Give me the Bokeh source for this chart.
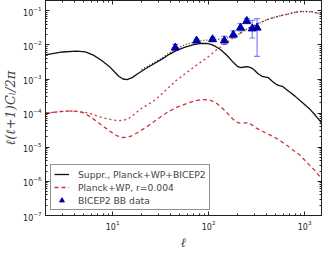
from bokeh.plotting import figure
from bokeh.models import (LogAxis, FixedTicker, Legend, LegendItem, Whisker, TeeHead,
                          ColumnDataSource, Range1d, CustomJSTickFormatter)
from bokeh.embed import file_html
from bokeh.resources import INLINE

# ---------------- data ----------------
# suppressed tensor BB spectrum (Planck+WP+BICEP2)
ell_supp = [2, 3, 4.2, 5.2, 6.3, 7.7, 9.3, 10.5, 11.6, 12.8, 14.1, 16, 18.4, 22, 27, 33, 39, 47,
            58, 70, 84, 95, 106, 118, 133, 147, 161, 175, 187, 202, 218, 235, 254, 275, 296,
            325, 359, 385, 417, 460, 505, 545, 588, 640, 711, 800, 894, 1000, 1122, 1300, 1500]
cl_supp = [5.1e-3, 6.2e-3, 6.6e-3, 6.2e-3, 5.0e-3, 3.5e-3, 2.3e-3, 1.6e-3, 1.2e-3, 1.0e-3,
           9.6e-4, 1.1e-3, 1.45e-3, 2.0e-3, 2.8e-3, 3.9e-3, 5.3e-3, 7.0e-3, 8.7e-3, 1.02e-2,
           1.1e-2, 1.1e-2, 1.03e-2, 9.0e-3, 7.3e-3, 5.7e-3, 4.4e-3, 3.4e-3, 2.8e-3, 2.3e-3,
           2.15e-3, 2.25e-3, 2.3e-3, 2.15e-3, 1.9e-3, 1.45e-3, 1.2e-3, 1.15e-3, 1.1e-3, 8.6e-4,
           7.0e-4, 6.4e-4, 6.1e-4, 5.0e-4, 4.0e-4, 3.1e-4, 2.35e-4, 1.8e-4, 1.35e-4, 8.5e-5, 5.2e-5]

# suppressed tensor + lensing (total)
ell_supp_tot = [20, 27, 33, 39, 47, 58, 70, 84, 106, 133, 168, 203, 244, 300, 386, 470, 565,
                700, 862, 965, 1170, 1310, 1500]
cl_supp_tot = [1.9e-3, 3.0e-3, 4.2e-3, 5.8e-3, 8.0e-3, 1.03e-2, 1.2e-2, 1.33e-2, 1.42e-2,
               1.48e-2, 1.65e-2, 2.0e-2, 2.8e-2, 3.7e-2, 5.2e-2, 6.3e-2, 7.2e-2, 8.2e-2,
               9.4e-2, 9.5e-2, 9.3e-2, 8.7e-2, 8.0e-2]

# Planck+WP tensor spectrum, r = 0.004
ell_planck = [2, 2.8, 3.6, 4.3, 5, 5.8, 6.8, 8, 9.3, 11, 12.6, 14, 15.8, 19, 23, 30, 38, 47, 58,
              70, 84, 102, 118, 133, 150, 168, 185, 203, 228, 254, 280, 309, 345, 386, 450, 524,
              658, 780, 894, 1100, 1300, 1500]
cl_planck = [1.0e-4, 1.1e-4, 1.17e-4, 1.13e-4, 1.02e-4, 8.0e-5, 5.8e-5, 4.1e-5, 3.0e-5, 2.2e-5,
             1.93e-5, 1.95e-5, 2.15e-5, 2.9e-5, 4.1e-5, 7.0e-5, 1.1e-4, 1.5e-4, 1.86e-4, 2.25e-4,
             2.5e-4, 2.45e-4, 2.05e-4, 1.55e-4, 1.15e-4, 8.0e-5, 6.2e-5, 5.2e-5, 5.1e-5, 5.3e-5,
             4.6e-5, 3.7e-5, 3.2e-5, 2.7e-5, 2.2e-5, 1.74e-5, 1.12e-5, 7.8e-6, 5.9e-6, 3.2e-6,
             2.0e-6, 1.2e-6]

# Planck+WP tensor + lensing (total)
ell_planck_tot = [2, 3, 3.6, 5, 6, 7.1, 8.5, 10, 11.6, 13, 14.6, 17, 19.8, 23, 26.9, 32, 38, 46,
                  58, 70, 84, 100, 123, 150, 180, 210, 244, 300, 386, 470, 565, 684, 862, 965,
                  1170, 1310, 1500]
cl_planck_tot = [1.0e-4, 1.12e-4, 1.15e-4, 1.08e-4, 9.5e-5, 8.0e-5, 7.0e-5, 6.3e-5, 6.0e-5,
                 6.2e-5, 6.8e-5, 9.5e-5, 1.35e-4, 1.75e-4, 2.3e-4, 3.5e-4, 5.5e-4, 9.0e-4, 1.5e-3,
                 2.2e-3, 3.2e-3, 4.6e-3, 7.4e-3, 1.1e-2, 1.6e-2, 2.15e-2, 2.8e-2, 3.8e-2, 5.2e-2,
                 6.2e-2, 7.2e-2, 8.1e-2, 9.5e-2, 9.6e-2, 9.4e-2, 8.8e-2, 8.0e-2]

# BICEP2 BB bandpowers
bicep_ell = [45, 75, 110, 146, 181, 215, 250, 285, 320]
bicep_val = [8.3e-3, 1.33e-2, 1.45e-2, 1.33e-2, 1.97e-2, 3.17e-2, 5.0e-2, 3.0e-2, 3.17e-2]
bicep_hi = [1.03e-2, 1.48e-2, 1.65e-2, 1.77e-2, 2.56e-2, 4.2e-2, 6.0e-2, 5.2e-2, 5.9e-2]
bicep_lo = [6.9e-3, 1.15e-2, 1.26e-2, 1.03e-2, 1.59e-2, 2.56e-2, 4.2e-2, 1.59e-2, 4.6e-3]

# ticks
x_major = [10, 100, 1000]
y_major = [1e-7, 1e-6, 1e-5, 1e-4, 1e-3, 1e-2, 1e-1]
x_minor = [m * 10 ** e for e in range(0, 4) for m in range(2, 10)]
y_minor = [m * 10.0 ** e for e in range(-7, 0) for m in range(2, 10)]

labels = ["Suppr., Planck+WP+BICEP2", "Planck+WP, r=0.004", "BICEP2 BB data"]

# ---------------- figure ----------------
p = figure(width=326, height=252, x_axis_type="log", y_axis_type="log",
           x_range=Range1d(2, 1500), y_range=Range1d(1e-7, 0.2),
           output_backend="svg", toolbar_location=None,
           min_border_left=33, min_border_right=5, min_border_top=0, min_border_bottom=31)
p.background_fill_color = "white"
p.border_fill_color = "white"
p.outline_line_color = "#222222"
p.outline_line_width = 1
p.xgrid.visible = False
p.ygrid.visible = False

RED = "#cc3340"
r_lens_p = p.line(ell_planck_tot, cl_planck_tot, line_color=RED, line_width=1.3, line_dash="2 3")
r_lens_s = p.line(ell_supp_tot, cl_supp_tot, line_color="#333333", line_width=1.3, line_dash="1 2")
r_red = p.line(ell_planck, cl_planck, line_color=RED, line_width=1.3, line_dash="4 3")
r_black = p.line(ell_supp, cl_supp, line_color="#111111", line_width=1.3)

src = ColumnDataSource(dict(l=bicep_ell, v=bicep_val, hi=bicep_hi, lo=bicep_lo))
EB = "#7f7fff"
wh = Whisker(source=src, base="l", upper="hi", lower="lo", line_color=EB, line_width=1.2,
             upper_head=TeeHead(size=6, line_color=EB, line_width=1.2),
             lower_head=TeeHead(size=6, line_color=EB, line_width=1.2))
p.add_layout(wh)
r_tri = p.scatter("l", "v", source=src, marker="triangle", size=8,
                  fill_color="#0000aa", line_color="#0000aa")

# axes styling
def style_axis(ax, ticker, show_labels):
    ax.ticker = ticker
    ax.major_tick_in = 4
    ax.major_tick_out = 0
    ax.minor_tick_in = 2
    ax.minor_tick_out = 0
    ax.axis_line_color = "#222222"
    ax.major_tick_line_color = "#222222"
    ax.minor_tick_line_color = "#222222"
    ax.major_label_text_font = "DejaVu Sans"
    ax.major_label_text_color = "#222222"
    ax.major_label_text_font_size = "8px"
    if show_labels:
        ax.major_label_standoff = 4
    else:
        ax.formatter = CustomJSTickFormatter(code="return ''")
        ax.major_label_standoff = 0

xt = FixedTicker(ticks=x_major, minor_ticks=x_minor)
yt = FixedTicker(ticks=y_major, minor_ticks=y_minor)
style_axis(p.xaxis[0], xt, True)
style_axis(p.yaxis[0], yt, True)

p.xaxis[0].axis_label = "ℓ"
p.xaxis[0].axis_label_text_font = "DejaVu Serif"
p.xaxis[0].axis_label_text_font_style = "italic"
p.xaxis[0].axis_label_text_font_size = "13px"
p.xaxis[0].axis_label_standoff = 2
p.yaxis[0].axis_label = "ℓ(ℓ+1)Cₗ/2π"
p.yaxis[0].axis_label_text_font = "DejaVu Serif"
p.yaxis[0].axis_label_text_font_style = "italic"
p.yaxis[0].axis_label_text_font_size = "13px"
p.yaxis[0].axis_label_standoff = 2

top = LogAxis()
style_axis(top, FixedTicker(ticks=x_major, minor_ticks=x_minor), False)
p.add_layout(top, "above")
right = LogAxis()
style_axis(right, FixedTicker(ticks=y_major, minor_ticks=y_minor), False)
p.add_layout(right, "right")

legend = Legend(items=[LegendItem(label=labels[0], renderers=[r_black]),
                       LegendItem(label=labels[1], renderers=[r_red]),
                       LegendItem(label=labels[2], renderers=[r_tri])],
                location=(5, 5))
legend.border_line_color = "#222222"
legend.border_line_width = 1
legend.background_fill_alpha = 1
legend.label_text_font = "DejaVu Sans"
legend.label_text_font_size = "9.2px"
legend.glyph_width = 15
legend.glyph_height = 12
legend.label_height = 12
legend.label_standoff = 9
legend.padding = 3
legend.spacing = 1
legend.margin = 0
p.add_layout(legend)

open("out.html", "w").write(file_html(p, INLINE))
